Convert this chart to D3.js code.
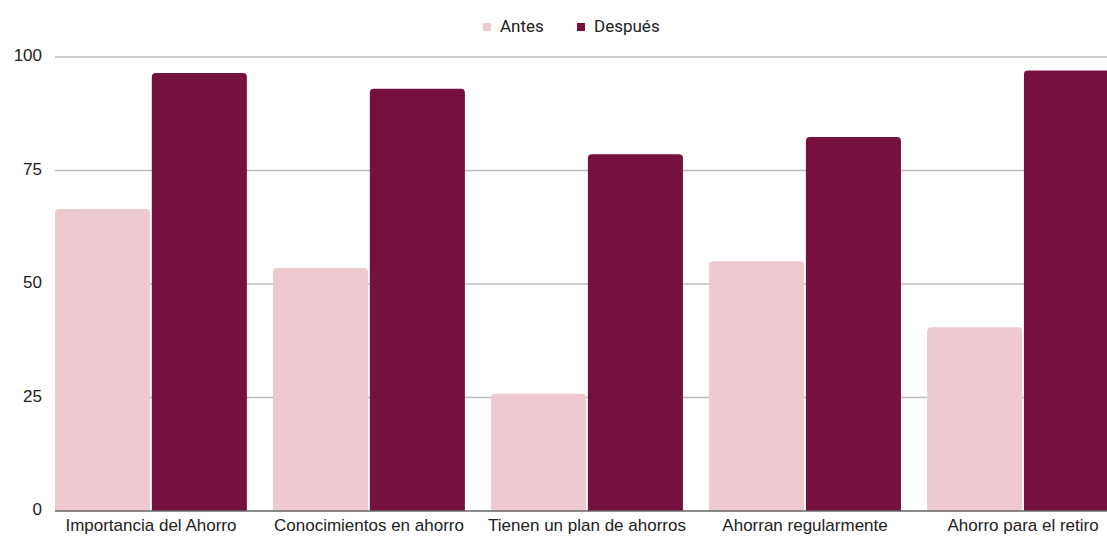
<!DOCTYPE html>
<html>
<head>
<meta charset="utf-8">
<script src="https://cdn.jsdelivr.net/npm/d3@7"></script>
<style>
  body { margin: 0; background: #fff; }
  svg { display: block; font-family: "Roboto", "Liberation Sans", sans-serif; }
  .tick text { fill: #222; font-size: 17px; }
</style>
</head>
<body>
<svg id="chart" width="1107" height="536"></svg>
<script>
// Data
const categories = ['Importancia del Ahorro', 'Conocimientos en ahorro', 'Tienen un plan de ahorros', 'Ahorran regularmente', 'Ahorro para el retiro'];
const seriesNames = ['Antes', 'Después'];
const antes = [66.5, 53.5, 25.8, 55, 40.5];
const despues = [96.5, 93, 78.6, 82.4, 97];
const yTicks = [0, 25, 50, 75, 100];
const colors = ['#eec9d0', '#76113f'];

const rows = categories.map((c, i) => ({ cat: c, values: [antes[i], despues[i]] }));

const svg = d3.select('#chart');
const dims = { left: 55, right: 1119, top: 57, bottom: 511 };

const x0 = d3.scaleBand()
  .domain(categories)
  .range([dims.left, dims.right])
  .paddingInner(0.12)
  .paddingOuter(0);

const x1 = d3.scaleBand()
  .domain(seriesNames)
  .range([0, x0.bandwidth()])
  .paddingInner(0.018);

const y = d3.scaleLinear()
  .domain([0, 100])
  .range([dims.bottom, dims.top]);

// Horizontal gridlines
svg.append('g')
  .selectAll('line')
  .data(yTicks.filter(d => d > 0))
  .join('line')
  .attr('x1', dims.left)
  .attr('x2', 1107)
  .attr('y1', d => y(d))
  .attr('y2', d => y(d))
  .attr('stroke', '#bdbdbd')
  .attr('stroke-width', 1.3);

// Y axis labels
const yAxis = d3.axisLeft(y).tickValues(yTicks).tickSize(0).tickPadding(13);
svg.append('g')
  .attr('transform', `translate(${dims.left},0)`)
  .call(yAxis)
  .call(g => g.select('.domain').remove())
  .call(g => g.selectAll('text').attr('dy', '0.22em'));

// Bars with rounded top corners
const r = 4;
function topRounded(x, yTop, w, h) {
  const rr = Math.min(r, h, w / 2);
  return `M${x},${yTop + h}V${yTop + rr}Q${x},${yTop} ${x + rr},${yTop}` +
    `H${x + w - rr}Q${x + w},${yTop} ${x + w},${yTop + rr}V${yTop + h}Z`;
}

const groups = svg.append('g')
  .selectAll('g')
  .data(rows)
  .join('g')
  .attr('transform', d => `translate(${x0(d.cat)},0)`);

groups.selectAll('path')
  .data(d => d.values.map((v, i) => ({ key: seriesNames[i], v, i })))
  .join('path')
  .attr('fill', d => colors[d.i])
  .attr('d', d => topRounded(x1(d.key), y(d.v), x1.bandwidth(), y(0) - y(d.v)));

// Baseline
svg.append('line')
  .attr('x1', dims.left)
  .attr('x2', 1107)
  .attr('y1', y(0))
  .attr('y2', y(0))
  .attr('stroke', '#666')
  .attr('stroke-width', 1.5);

// X axis labels
const xAxis = d3.axisBottom(x0).tickSize(0).tickPadding(8);
svg.append('g')
  .attr('transform', `translate(0,${y(0)})`)
  .call(xAxis)
  .call(g => g.select('.domain').remove());

// Legend
const legendItems = [{ name: 'Antes', x: 483 }, { name: 'Después', x: 577 }];
const legend = svg.append('g');
legend.selectAll('rect')
  .data(legendItems)
  .join('rect')
  .attr('x', d => d.x)
  .attr('y', 23)
  .attr('width', 8)
  .attr('height', 8)
  .attr('fill', (d, i) => colors[i]);
legend.selectAll('text')
  .data(legendItems)
  .join('text')
  .attr('x', d => d.x + 17)
  .attr('y', 32)
  .attr('font-size', 17)
  .attr('fill', '#222')
  .text(d => d.name);
</script>
</body>
</html>
